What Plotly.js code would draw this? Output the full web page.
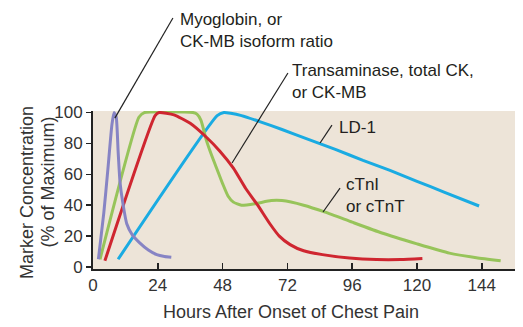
<!DOCTYPE html>
<html><head><meta charset="utf-8">
<script src="https://cdn.plot.ly/plotly-3.0.1.min.js"></script>
<style>html,body{margin:0;padding:0;background:#fff}</style>
</head><body><div id="chart" style="width:523px;height:327px"></div>
<script>
// Data (hours after onset, % of maximum)
const myoHours = [2, 4, 5.5, 7, 7.8, 8.6, 9.3, 10, 11, 12.5, 14.5, 17.4, 20.5, 23.6, 26.5, 29];
const myoValues = [5, 35, 63, 92, 100, 97, 75, 55, 42, 28, 21, 15.5, 11, 8, 6.8, 6.3];

const ckHours = [4.4, 23, 24.5, 30, 36, 42, 47, 52, 56.5, 61, 65.5, 69, 73, 78, 85, 95, 105, 114, 122];
const ckValues = [4, 98, 100, 98.5, 93, 84, 75, 64, 51, 40, 28, 20, 14.5, 10.5, 8, 5.8, 4.8, 4.8, 5.5];

const ldHours = [9.3, 46, 48.5, 51, 55, 62, 70, 80, 90, 100, 110, 120, 130, 143];
const ldValues = [5, 98, 100, 99.5, 98, 94, 89, 82.5, 76, 69, 62.5, 55.5, 48.5, 39.5];

const tnHours = [2.6, 17, 19, 28, 37, 38.5, 40, 42, 44, 46, 48, 50, 52, 55, 60, 66, 70, 78, 86, 96, 107, 120, 132, 142, 151];
const tnValues = [5, 97, 100, 100.5, 100, 99, 95, 82, 72, 63, 54, 46, 42, 40, 41, 43, 43, 40, 35.5, 29, 22, 15, 9, 6, 4];

const xTicks = [0, 24, 48, 72, 96, 120, 144];
const yTicks = [0, 20, 40, 60, 80, 100];

const labels = {
  myo: 'Myoglobin, or<br>CK-MB isoform ratio',
  ck: 'Transaminase, total CK,<br>or CK-MB',
  ld: 'LD-1',
  tn: 'cTnI<br>or cTnT'
};
const xTitle = 'Hours After Onset of Chest Pain';
const yTitle1 = 'Marker Concentration';
const yTitle2 = '(% of Maximum)';

const FONT = 'Liberation Sans, Arial, Helvetica, sans-serif';
const xRange = [0, 156.3];
const yRange = [-1.3, 101];

function px(h) { return (h - xRange[0]) / (xRange[1] - xRange[0]); }
function py(v) { return (v - yRange[0]) / (yRange[1] - yRange[0]); }

function pointer(x0, y0, x1, y1) {
  return {type: 'line', xref: 'paper', yref: 'paper',
    x0: px(x0), y0: py(y0), x1: px(x1), y1: py(y1),
    line: {color: '#222', width: 1.2}};
}

const lineW = 3;
const traces = [
  {x: ldHours, y: ldValues, name: 'LD-1', mode: 'lines', line: {color: '#1aabe2', width: lineW, shape: 'spline', smoothing: 0.5}},
  {x: tnHours, y: tnValues, name: 'cTnI or cTnT', mode: 'lines', line: {color: '#97c45a', width: lineW, shape: 'spline', smoothing: 0.5}},
  {x: ckHours, y: ckValues, name: 'CK-MB', mode: 'lines', line: {color: '#cf2630', width: lineW, shape: 'spline', smoothing: 0.5}},
  {x: myoHours, y: myoValues, name: 'Myoglobin', mode: 'lines', line: {color: '#8784c4', width: lineW, shape: 'spline', smoothing: 0.5}}
];

const annFont = {family: FONT, size: 17, color: '#231f20'};
const titleFont = {family: FONT, size: 18, color: '#333'};
function textAnn(h, v, text) {
  return {xref: 'paper', yref: 'paper', x: px(h), y: py(v), xanchor: 'left', yanchor: 'middle',
    align: 'left', showarrow: false, text: text, font: annFont};
}
const layout = {
  width: 523, height: 327,
  margin: {l: 93, r: 8, t: 111, b: 58},
  paper_bgcolor: '#ffffff',
  plot_bgcolor: '#ede4d8',
  showlegend: false,
  font: {family: FONT, color: '#333'},
  xaxis: {
    range: xRange, tickvals: xTicks, ticktext: xTicks.map(String),
    ticks: 'inside', ticklen: 6, tickwidth: 1.5, tickcolor: '#222',
    showline: true, linecolor: '#222', linewidth: 2,
    showgrid: false, zeroline: false,
    tickfont: {family: FONT, size: 17, color: '#333'}
  },
  yaxis: {
    range: yRange, tickvals: yTicks, ticktext: yTicks.map(String),
    ticks: 'outside', ticklen: 5, tickwidth: 1.5, tickcolor: '#222',
    showline: true, linecolor: '#222', linewidth: 2,
    showgrid: false, zeroline: false,
    tickfont: {family: FONT, size: 17, color: '#333'}
  },
  annotations: [
    textAnn(31.3, 153, labels.myo),
    textAnn(72.8, 120, labels.ck),
    textAnn(90.5, 90, labels.ld),
    textAnn(93.1, 46, labels.tn),
    {xref: 'paper', yref: 'paper', x: (291 - 93) / 422, y: (269 - 311.5) / 158, xanchor: 'center', yanchor: 'middle',
      showarrow: false, text: xTitle, font: titleFont},
    {xref: 'paper', yref: 'paper', x: (27 - 93) / 422, y: (269 - 193) / 158, xanchor: 'center', yanchor: 'middle',
      showarrow: false, textangle: -90, text: yTitle1, font: titleFont},
    {xref: 'paper', yref: 'paper', x: (47 - 93) / 422, y: (269 - 182.5) / 158, xanchor: 'center', yanchor: 'middle',
      showarrow: false, textangle: -90, text: yTitle2, font: titleFont}
  ],
  shapes: [
    pointer(8.1, 96.4, 29.6, 161.2),
    pointer(51.5, 67.3, 72.2, 125.6),
    pointer(84.1, 80.3, 88.5, 91.9),
    pointer(85.2, 35.6, 91.5, 51.1)
  ]
};

Plotly.newPlot('chart', traces, layout, {displayModeBar: false, staticPlot: true});
</script></body></html>
